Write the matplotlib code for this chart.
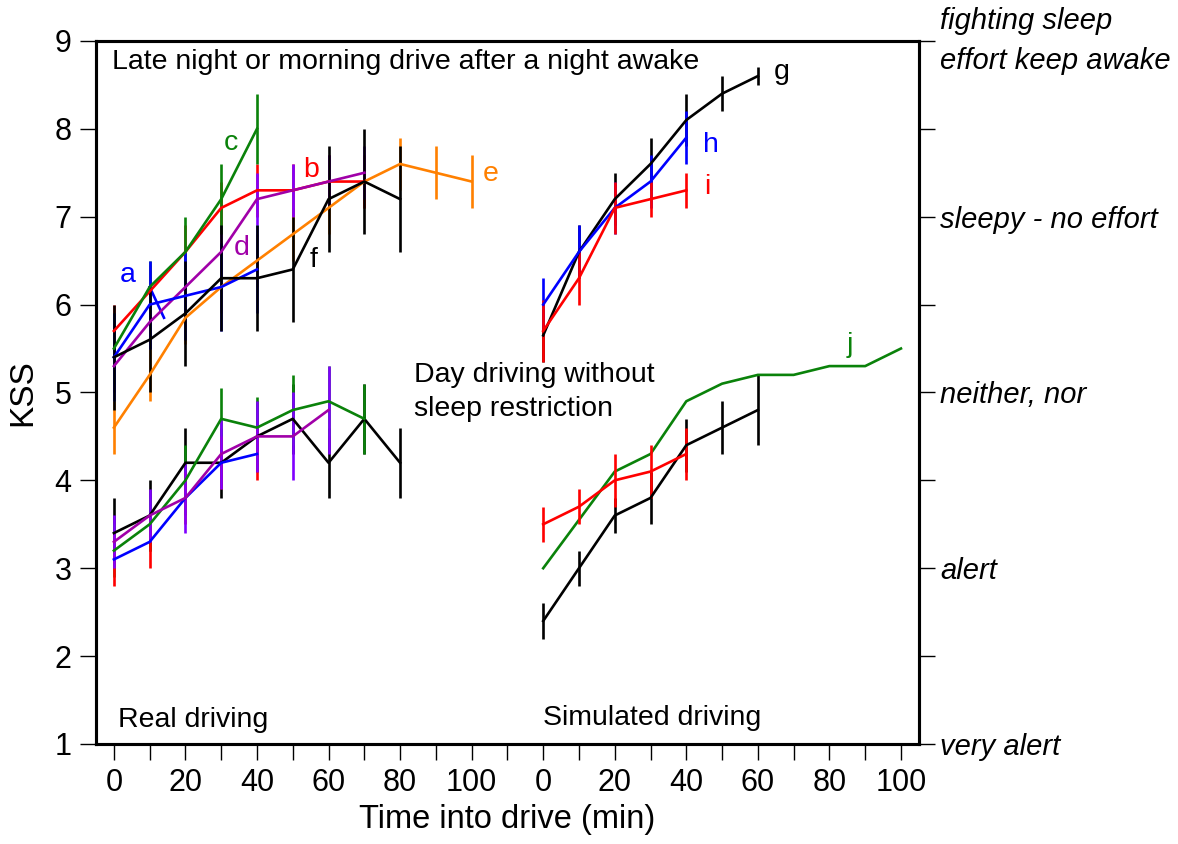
import matplotlib
matplotlib.use('Agg')
import matplotlib.pyplot as plt

plt.rcParams['font.family'] = ['Liberation Sans', 'DejaVu Sans']

# simulated drives are drawn shifted right on the same axis
SIM = 120

# late night / morning drive after a night awake -- real driving
a_t = [0, 10, 20, 30, 40]
a_kss = [5.4, 6.0, 6.1, 6.2, 6.4]
a_err = [0.5, 0.5, 0.5, 0.5, 0.5]
a_extra_t = [10, 14]
a_extra_kss = [6.2, 5.85]

b_t = [0, 10, 20, 30, 40, 50, 60, 70]
b_kss = [5.7, 6.15, 6.6, 7.1, 7.3, 7.3, 7.4, 7.4]
b_err = [0.3, 0.3, 0.3, 0.3, 0.3, 0.3, 0.3, 0.3]

c_t = [0, 10, 20, 30, 40]
c_kss = [5.5, 6.2, 6.6, 7.2, 8.0]
c_err = [0.4, 0.3, 0.4, 0.4, 0.4]

d_t = [0, 10, 20, 30, 40, 50, 60, 70]
d_kss = [5.3, 5.8, 6.2, 6.6, 7.2, 7.3, 7.4, 7.5]
d_err = [0.3, 0.3, 0.3, 0.3, 0.3, 0.3, 0.3, 0.3]

e_t = [0, 10, 20, 30, 40, 50, 60, 70, 80, 90, 100]
e_kss = [4.6, 5.2, 5.85, 6.2, 6.5, 6.8, 7.1, 7.4, 7.6, 7.5, 7.4]
e_err = [0.3] * 11

f_t = [0, 10, 20, 30, 40, 50, 60, 70, 80]
f_kss = [5.4, 5.6, 5.9, 6.3, 6.3, 6.4, 7.2, 7.4, 7.2]
f_err = [0.6] * 9

# day driving without sleep restriction -- real driving
day_black_t = [0, 10, 20, 30, 40, 50, 60, 70, 80]
day_black_kss = [3.4, 3.6, 4.2, 4.2, 4.5, 4.7, 4.2, 4.7, 4.2]
day_black_err = [0.4] * 9

day_green_t = [0, 10, 20, 30, 40, 50, 60, 70]
day_green_kss = [3.2, 3.5, 4.0, 4.7, 4.6, 4.8, 4.9, 4.7]
day_green_err = [0.3, 0.3, 0.4, 0.35, 0.35, 0.4, 0.4, 0.4]

day_blue_t = [0, 10, 20, 30, 40]
day_blue_kss = [3.1, 3.3, 3.8, 4.2, 4.3]
day_blue_err = [0.3, 0.3, 0.3, 0.3, 0.3]

day_purple_t = [0, 10, 20, 30, 40, 50, 60]
day_purple_kss = [3.3, 3.6, 3.8, 4.3, 4.5, 4.5, 4.8]
day_purple_err = [0.3, 0.3, 0.4, 0.4, 0.4, 0.5, 0.5]

# simulated driving after a night awake
g_t = [0, 10, 20, 30, 40, 50, 60]
g_kss = [5.65, 6.6, 7.2, 7.6, 8.1, 8.4, 8.6]
g_err = [0.3, 0.3, 0.3, 0.3, 0.3, 0.2, 0.1]

h_t = [0, 10, 20, 30, 40]
h_kss = [6.0, 6.6, 7.1, 7.4, 7.9]
h_err = [0.3, 0.3, 0.3, 0.3, 0.3]

i_t = [0, 10, 20, 30, 40]
i_kss = [5.7, 6.3, 7.1, 7.2, 7.3]
i_err = [0.35, 0.3, 0.3, 0.2, 0.2]

# simulated day driving
sim_black_t = [0, 10, 20, 30, 40, 50, 60]
sim_black_kss = [2.4, 3.0, 3.6, 3.8, 4.4, 4.6, 4.8]
sim_black_err = [0.2, 0.2, 0.2, 0.3, 0.3, 0.3, 0.4]

j_t = [0, 10, 20, 30, 40, 50, 60, 70, 80, 90, 100]
j_kss = [3.0, 3.55, 4.1, 4.3, 4.9, 5.1, 5.2, 5.2, 5.3, 5.3, 5.5]

sim_red_t = [0, 10, 20, 30, 40]
sim_red_kss = [3.5, 3.7, 4.0, 4.1, 4.3]
sim_red_err = [0.2, 0.2, 0.3, 0.3, 0.3]

kss_ticks = [1, 2, 3, 4, 5, 6, 7, 8, 9]
kss_words = {1: 'very alert', 3: 'alert', 5: 'neither, nor',
             7: 'sleepy - no effort', 9: 'fighting sleep\neffort keep awake'}

RED = '#ff0000'
GREEN = '#0a820a'
BLUE = '#0000ff'
ORANGE = '#ff8000'
PURPLE = '#a000a8'
VIOLET = '#8000ff'

fig = plt.figure(figsize=(11.78, 8.44), dpi=100)
ax = fig.add_axes([0.0815, 0.1185, 0.6985, 0.833])

lw = 1.9


def series(t, kss, err, color, ecolor=None, shift=0):
    x = [v + shift for v in t]
    if err is None:
        ax.plot(x, kss, color=color, lw=lw)
    else:
        ax.errorbar(x, kss, yerr=err, color=color, ecolor=ecolor or color,
                    lw=lw, elinewidth=lw, capsize=0)


# night awake, real driving
series(e_t, e_kss, e_err, ORANGE)
series(b_t, b_kss, b_err, RED)
series(d_t, d_kss, d_err, PURPLE, VIOLET)
series(c_t, c_kss, c_err, GREEN)
series(a_t, a_kss, a_err, BLUE)
ax.plot(a_extra_t, a_extra_kss, color=BLUE, lw=lw)
series(f_t, f_kss, f_err, 'black')

# day, real driving
series(day_black_t, day_black_kss, day_black_err, 'black')
series(day_green_t, day_green_kss, day_green_err, GREEN)
series(day_blue_t, day_blue_kss, day_blue_err, BLUE, RED)
series(day_purple_t, day_purple_kss, day_purple_err, PURPLE, VIOLET)

# simulated driving
series(g_t, g_kss, g_err, 'black', shift=SIM)
series(h_t, h_kss, h_err, BLUE, shift=SIM)
series(i_t, i_kss, i_err, RED, shift=SIM)
series(sim_black_t, sim_black_kss, sim_black_err, 'black', shift=SIM)
series(j_t, j_kss, None, GREEN, shift=SIM)
series(sim_red_t, sim_red_kss, sim_red_err, RED, shift=SIM)

# series letters
lab = dict(fontsize=20.5, va='center', ha='center')
ax.text(3.9, 6.34, 'a', color=BLUE, **lab)
ax.text(55.2, 7.53, 'b', color=RED, **lab)
ax.text(32.8, 7.84, 'c', color=GREEN, **lab)
ax.text(35.6, 6.64, 'd', color=PURPLE, **lab)
ax.text(105.3, 7.49, 'e', color=ORANGE, **lab)
ax.text(55.7, 6.51, 'f', color='black', **lab)
ax.text(SIM + 66.6, 8.65, 'g', color='black', **lab)
ax.text(SIM + 47, 7.82, 'h', color=BLUE, **lab)
ax.text(SIM + 45.8, 7.34, 'i', color=RED, **lab)
ax.text(SIM + 85.6, 5.54, 'j', color=GREEN, **lab)

txt = dict(fontsize=20.5, color='black')
ax.text(-0.6, 8.76, 'Late night or morning drive after a night awake', va='center', ha='left', **txt)
ax.text(84, 5.0, 'Day driving without\nsleep restriction', va='center', ha='left',
        linespacing=1.4, **txt)
ax.text(1.1, 1.27, 'Real driving', va='center', ha='left', **txt)
ax.text(SIM - 0.1, 1.3, 'Simulated driving', va='center', ha='left', **txt)

ax.set_xlim(-5, 225)
ax.set_ylim(1, 9)
xt = list(range(0, 221, 10))
ax.set_xticks(xt)
ax.set_xticklabels([str(t % SIM) if t % 20 == 0 else '' for t in xt])
ax.set_yticks(kss_ticks)
ax.set_yticklabels([str(k) for k in kss_ticks])
ax.tick_params(axis='both', direction='out', length=11.5, width=1.0, labelsize=22, pad=6)
for s in ax.spines.values():
    s.set_linewidth(2.2)
ax.set_xlabel('Time into drive (min)', fontsize=23.5, labelpad=4)
ax.set_ylabel('KSS', fontsize=24, labelpad=12)

ax2 = ax.twinx()
ax2.set_ylim(1, 9)
ax2.set_yticks(kss_ticks)
ax2.set_yticklabels([kss_words.get(k, '') for k in kss_ticks], fontstyle='italic',
                    fontsize=21, linespacing=1.55)
for t in ax2.get_yticklabels():
    if '\n' in t.get_text():
        t.set_va('center')
ax2.tick_params(axis='y', direction='out', length=11.5, width=1.0, pad=4)
for s in ax2.spines.values():
    s.set_linewidth(2.2)

fig.savefig('out.png', dpi=100)
